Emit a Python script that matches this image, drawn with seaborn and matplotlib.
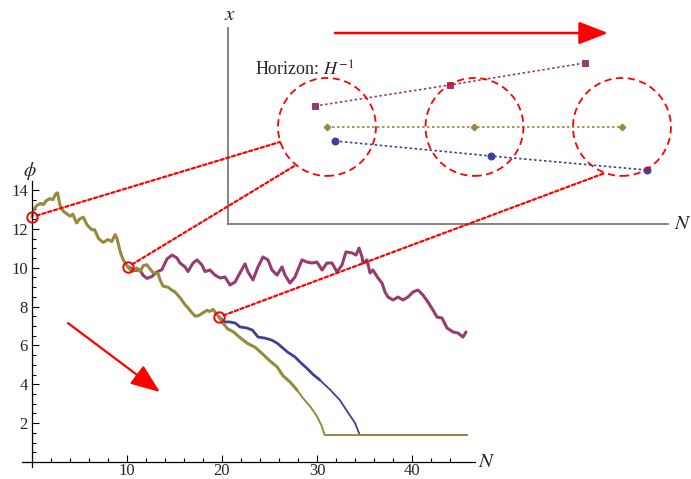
import numpy as np
import pandas as pd
import matplotlib
matplotlib.use("Agg")
import matplotlib.pyplot as plt
from matplotlib.patches import Circle, ConnectionPatch
import seaborn as sns

# ---------------- data ----------------
olive_N = [0.0, 0.2, 0.5, 0.9, 1.2, 1.5, 1.9, 2.2, 2.5, 2.7, 2.95, 3.3, 3.6, 4.0, 4.3,
           4.7, 5.0, 5.4, 5.8, 6.3, 6.6, 7.0, 7.5, 8.0, 8.4, 8.75, 8.95, 9.3, 9.6, 10.0,
           10.5, 11.05, 11.4, 11.7, 12.1, 12.4, 12.74, 13.26, 13.5, 13.8, 14.3, 14.7,
           15.05, 15.6, 16.1, 16.4, 16.8, 17.2, 17.6, 17.9, 18.4, 18.7, 19.05, 19.47,
           19.68, 20.1, 20.6, 21.2, 21.9, 22.7, 23.5, 24.3, 25.05, 25.8, 26.4, 27.2,
           27.9, 28.5, 29.3, 30.0, 30.5, 30.8, 45.8]
olive_phi = [12.61, 13.0, 13.2, 13.3, 13.25, 13.45, 13.55, 13.5, 13.8, 13.85, 13.2, 12.9,
             12.8, 12.65, 12.75, 12.3, 12.5, 12.6, 12.2, 11.95, 11.95, 11.5, 11.3, 11.45,
             11.35, 11.7, 11.5, 10.8, 10.4, 10.1, 9.8, 9.98, 9.8, 10.1, 10.15, 9.95, 9.75,
             9.7, 9.35, 9.05, 9.0, 8.85, 8.75, 8.45, 8.1, 7.95, 7.7, 7.5, 7.55, 7.65, 7.8,
             7.75, 7.85, 7.6, 7.46, 7.15, 6.85, 6.7, 6.4, 6.1, 5.9, 5.55, 5.2, 4.9, 4.45,
             4.1, 3.7, 3.3, 2.85, 2.35, 1.85, 1.39, 1.39]
olive_calm_from = 27.9    # beyond this N the olive path is smooth (thin line)

magenta_N = [10.1, 10.32, 10.8, 11.37, 11.7, 12.11, 12.63, 13.16, 13.68, 14.21, 14.74,
             15.26, 15.58, 16.11, 16.42, 16.95, 17.37, 17.89, 18.21, 18.74, 19.26, 19.79,
             20.32, 20.84, 21.37, 21.89, 22.42, 22.74, 23.26, 23.79, 24.32, 24.84, 25.26,
             25.79, 26.32, 26.63, 27.16, 27.68, 28.42, 28.95, 29.47, 30.0, 30.53, 31.05,
             31.58, 32.11, 32.63, 33.05, 33.68, 34.11, 34.42, 34.74, 34.84, 35.26, 35.58,
             35.89, 36.42, 36.84, 37.16, 37.47, 38.0, 38.53, 39.05, 39.58, 40.11, 40.63,
             41.16, 41.68, 42.21, 42.63, 43.16, 43.68, 44.32, 44.84, 45.37, 45.68]
magenta_phi = [10.04, 10.0, 9.85, 9.9, 9.6, 9.45, 9.55, 9.78, 9.9, 10.45, 10.65, 10.5,
               10.24, 10.04, 9.8, 10.24, 10.4, 10.14, 9.8, 9.88, 9.62, 9.47, 9.52, 9.11,
               9.26, 9.73, 10.2, 9.78, 9.37, 10.04, 10.55, 10.4, 9.88, 9.62, 10.04, 9.62,
               9.21, 9.52, 10.4, 10.29, 10.24, 10.29, 9.88, 10.24, 10.24, 9.78, 10.14,
               10.81, 10.76, 10.65, 11.01, 10.55, 10.24, 10.4, 9.73, 9.88, 9.47, 9.21,
               8.75, 8.49, 8.34, 8.49, 8.34, 8.49, 8.75, 8.85, 8.59, 8.23, 7.82, 7.46,
               7.41, 6.9, 6.69, 6.64, 6.43, 6.69]

blue_N = [19.68, 20.3, 20.8, 21.4, 21.9, 22.6, 23.2, 23.8, 24.5, 25.2, 25.8, 26.4, 26.9,
          27.7, 28.2, 28.9, 29.6, 30.3, 31.4, 32.4, 33.3, 34.0, 34.5, 45.8]
blue_phi = [7.46, 7.21, 7.21, 7.15, 6.95, 6.9, 6.79, 6.43, 6.38, 6.28, 6.12, 5.87, 5.66,
            5.40, 5.15, 4.84, 4.5, 4.22, 3.71, 3.19, 2.52, 2.01, 1.39, 1.39]
blue_calm_from = 30.3

branch_N = [0.0, 10.1, 19.68]          # branching points on the trajectory
branch_phi = [12.61, 10.04, 7.46]

# inset (real space x vs N)
inset_centers_N = [0.0, 1.0, 2.0]
inset_centers_x = [0.0, 0.0, 0.0]
horizon_radius = 0.332
inset_mag_N = [-0.08, 0.834, 1.749]
inset_mag_x = [0.142, 0.285, 0.434]
inset_olive_N = [0.0, 1.0, 2.0]
inset_olive_x = [0.0, 0.0, 0.0]
inset_blue_N = [0.054, 1.112, 2.169]
inset_blue_x = [-0.095, -0.197, -0.292]
link_N = [-0.319, -0.22, 1.885]        # where the red dotted links meet the circles
link_x = [-0.102, -0.264, -0.312]

# ---------------- style ----------------
sns.set_style("white")
plt.rcParams["font.family"] = ["Liberation Serif", "DejaVu Serif"]
plt.rcParams["mathtext.fontset"] = "stix"

BLUE = "#3f3f99"
MAG = "#963d6f"
OLIVE = "#958a3e"

fig = plt.figure(figsize=(6.91, 4.79), dpi=100)

# main axes
ax = fig.add_axes([22 / 691, (479 - 466.9) / 479, 453 / 691, (466.9 - 181.2) / 479])
ax.set_facecolor("none")

df_b = pd.DataFrame({"N": blue_N, "phi": blue_phi})
df_m = pd.DataFrame({"N": magenta_N, "phi": magenta_phi})
df_o = pd.DataFrame({"N": olive_N, "phi": olive_phi})

kw = dict(ax=ax, sort=False, estimator=None)
sns.lineplot(data=df_b[df_b.N <= blue_calm_from], x="N", y="phi", color=BLUE, lw=2.0, **kw)
sns.lineplot(data=df_b[df_b.N >= blue_calm_from], x="N", y="phi", color=BLUE, lw=1.3, **kw)
sns.lineplot(data=df_m, x="N", y="phi", color=MAG, lw=2.2, **kw)
sns.lineplot(data=df_o[df_o.N <= olive_calm_from], x="N", y="phi", color=OLIVE, lw=2.2, **kw)
sns.lineplot(data=df_o[df_o.N >= olive_calm_from], x="N", y="phi", color=OLIVE, lw=1.4, **kw)
ax.plot(branch_N, branch_phi, ls="none", marker="o", ms=7.5, mfc="none",
        mec="red", mew=1.4, zorder=5, clip_on=False)

ax.set_xlim(-1.05, 46.63)
ax.set_ylim(-0.25, 14.45)
ax.spines["top"].set_visible(False)
ax.spines["right"].set_visible(False)
ax.spines["left"].set_position(("data", 0))
ax.spines["bottom"].set_position(("data", 0))
for s in ("left", "bottom"):
    ax.spines[s].set_linewidth(0.9)
    ax.spines[s].set_color("black")
ax.set_xticks([10, 20, 30, 40])
ax.set_xticks(np.arange(2, 46, 2), minor=True)
ax.set_yticks([2, 4, 6, 8, 10, 12, 14])
ax.set_yticks(np.arange(0.5, 14.5, 0.5), minor=True)
ax.tick_params(which="both", direction="in", color="black", width=0.8,
               labelsize=12, bottom=True, left=True, top=False, right=False)
ax.tick_params(axis="x", which="both", pad=1)
ax.tick_params(axis="y", which="both", pad=3)
ax.tick_params(which="major", length=5)
ax.tick_params(which="minor", length=3)
ax.set_xlabel("")
ax.set_ylabel("")
ax.text(-0.2, 14.95, r"$\phi$", fontsize=14, ha="center", va="center", clip_on=False)
ax.text(47.9, 0.0, r"$N$", fontsize=15, ha="center", va="center", clip_on=False)

ax.annotate("", xy=(13.47, 3.6), xytext=(3.79, 7.15),
            arrowprops=dict(arrowstyle="-|>,head_length=0.9,head_width=0.35",
                            color="red", lw=1.6, mutation_scale=20,
                            shrinkA=0, shrinkB=0))

# inset axes
axin = fig.add_axes([228 / 691, (479 - 224) / 479, 440 / 691, 196 / 479])
axin.set_facecolor("none")
axin.set_xlim(-0.671, 2.312)
axin.set_ylim(-0.658, 0.671)
axin.spines["top"].set_visible(False)
axin.spines["right"].set_visible(False)
for s in ("left", "bottom"):
    axin.spines[s].set_color("#7a7a7a")
    axin.spines[s].set_linewidth(1.3)
axin.set_xticks([])
axin.set_yticks([])

for cN, cx in zip(inset_centers_N, inset_centers_x):
    axin.add_patch(Circle((cN, cx), horizon_radius, fill=False, ec="red", lw=1.3,
                          ls=(0, (4, 2.5)), zorder=3, clip_on=False))

ikw = dict(ax=axin, lw=1.2, ls=(0, (1.5, 1.5)), sort=False, estimator=None)
sns.lineplot(x=inset_mag_N, y=inset_mag_x, color=MAG, marker="s", ms=4.5, mec=MAG, **ikw)
sns.lineplot(x=inset_olive_N, y=inset_olive_x, color=OLIVE, marker="D", ms=3.5,
             mec=OLIVE, **ikw)
sns.lineplot(x=inset_blue_N, y=inset_blue_x, color=BLUE, marker="o", ms=5, mec=BLUE, **ikw)
for line in axin.lines:
    line.set_clip_on(False)
axin.set_xlabel("")
axin.set_ylabel("")

axin.annotate("", xy=(1.905, 0.637), xytext=(0.054, 0.637),
              arrowprops=dict(arrowstyle="-|>,head_length=0.9,head_width=0.35",
                              color="red", lw=1.8, mutation_scale=20,
                              shrinkA=0, shrinkB=0), annotation_clip=False)
axin.text(-0.488, 0.386, r"Horizon: $H^{-1}$", fontsize=13, ha="left", va="center")
axin.text(-0.658, 0.759, r"$x$", fontsize=15, ha="center", va="center", clip_on=False)
axin.text(2.414, -0.658, r"$N$", fontsize=15, ha="center", va="center", clip_on=False)

# red dotted links between the branch points and the horizon patches
for bN, bphi, lN, lx in zip(branch_N, branch_phi, link_N, link_x):
    con = ConnectionPatch(xyA=(bN, bphi), coordsA=ax.transData,
                          xyB=(lN, lx), coordsB=axin.transData,
                          color="red", lw=1.6, ls=(0, (1.5, 1.2)),
                          shrinkA=3.5, shrinkB=0)
    fig.add_artist(con)

fig.savefig("out.png", dpi=100)
